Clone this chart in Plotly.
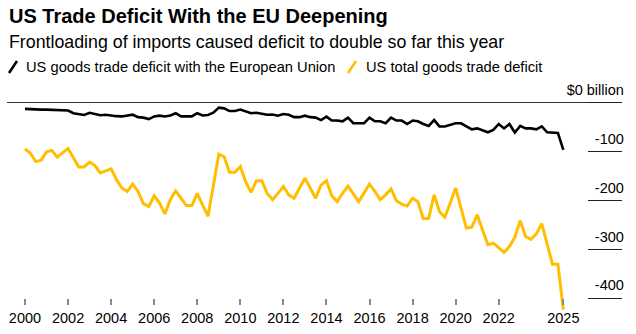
import pandas as pd
import plotly.graph_objects as go

# ---------------- data (quarterly, $ billion) ----------------
quarters = pd.date_range("2000-01-01", periods=101, freq="QS")

eu_deficit = [
    -12, -13, -13.5, -13.5, -13.5, -14, -14.5, -14.5,
    -15.5, -21, -23, -24.5, -20, -22, -25, -24,
    -26, -27, -27.5, -26, -24, -29, -30, -33,
    -27.5, -26, -27.5, -25.5, -21, -27.5, -27.5, -27.5,
    -21, -25.5, -24.5, -20, -9.5, -11, -16.5, -16.5,
    -13.5, -18, -21, -20, -22.5, -24, -23.5, -26,
    -22.5, -24, -29, -29, -26, -29, -30, -35,
    -28, -36, -36, -37.5, -30, -41.5, -41.5, -41.5,
    -30, -37.5, -37.5, -41.5, -30, -36, -36, -43,
    -36, -37.5, -43, -47, -35, -48, -48, -45,
    -41.5, -41.5, -48, -54, -52, -56.5, -60, -55,
    -43, -52, -43, -60.5, -47, -52, -52, -54,
    -48, -60, -61.5, -61.5, -96,
]

total_deficit = [
    -94, -103, -120, -117, -100, -97, -111, -102,
    -93, -112, -131, -131, -121, -128, -143, -139,
    -135, -157, -174, -181, -166, -181, -206, -212,
    -190, -205, -227, -198, -180, -195, -210, -210,
    -185, -209, -232, -169, -105, -110, -142, -142,
    -130, -161, -183, -159, -159, -185, -198, -185,
    -171, -188, -195, -174, -154, -174, -195, -168,
    -159, -190, -202, -185, -170, -186, -202, -184,
    -166, -181, -198, -188, -176, -200, -207, -211,
    -195, -202, -237, -236, -188, -222, -234, -205,
    -174, -215, -256, -254, -229, -260, -290, -287,
    -297, -306, -294, -275, -241, -273, -279, -268,
    -247, -288, -330, -330, -423,
]

series_names = ["US goods trade deficit with the European Union",
                "US total goods trade deficit"]

x_tick_years = [2000, 2002, 2004, 2006, 2008, 2010, 2012, 2014,
                2016, 2018, 2020, 2022, 2025]
x_tick_labels = [str(y) for y in x_tick_years]

y_tick_values = [0, -100, -200, -300, -400]
y_tick_labels = ["$0 billion", "-100", "-200", "-300", "-400"]

title_text = "US Trade Deficit With the EU Deepening"
subtitle_text = "Frontloading of imports caused deficit to double so far this year"

# ---------------- styling / geometry ----------------
W, H = 636, 334
ML, MR, MT, MB = 7, 14, 83, 23
PW, PH = W - ML - MR, H - MT - MB
Y_RANGE = [-425.8, 40.9]
X_RANGE = ["1999-03-02", "2027-09-23"]
BLACK = "#000000"
YELLOW = "#FFBF00"
FONT = "Liberation Sans, Arial, sans-serif"


def px_x(px):
    return (px - ML) / PW


def px_y(py):
    return (H - MB - py) / PH


fig = go.Figure()
fig.add_trace(go.Scatter(x=quarters, y=total_deficit, mode="lines",
                         name=series_names[1],
                         line=dict(color=YELLOW, width=3)))
fig.add_trace(go.Scatter(x=quarters, y=eu_deficit, mode="lines",
                         name=series_names[0],
                         line=dict(color=BLACK, width=2.6)))

x_axis_pos = (y_tick_values[-1] - Y_RANGE[0]) / (Y_RANGE[1] - Y_RANGE[0])

fig.update_layout(
    width=W, height=H,
    margin=dict(l=ML, r=MR, t=MT, b=MB),
    paper_bgcolor="white", plot_bgcolor="white",
    showlegend=False,
    font=dict(family=FONT, size=14.5, color="#000"),
    xaxis=dict(
        type="date", range=X_RANGE,
        tickvals=[f"{y}-01-01" for y in x_tick_years],
        ticktext=x_tick_labels,
        ticks="outside", ticklen=6, tickwidth=1.5, tickcolor="#8a8a8a",
        showgrid=False, zeroline=False, showline=False,
        anchor="free", position=x_axis_pos,
        tickfont=dict(size=14.5, color="#000"),
    ),
    yaxis=dict(
        range=Y_RANGE, side="right",
        tickvals=y_tick_values, ticktext=y_tick_labels,
        ticks="inside", ticklen=34, tickwidth=1, tickcolor="#222",
        ticklabelposition="inside", ticklabeloverflow="allow",
        ticklabelstandoff=-36, ticklabelshift=-13,
        showgrid=False, showline=False,
        zeroline=True, zerolinecolor="#333", zerolinewidth=1,
        tickfont=dict(size=14.5, color="#000"),
    ),
)

annotations = [
    dict(text=title_text, x=px_x(7), y=px_y(16), xref="paper", yref="paper",
         xanchor="left", yanchor="middle", showarrow=False,
         font=dict(family=FONT, size=20, weight=700, color="#000")),
    dict(text=subtitle_text, x=px_x(7), y=px_y(42), xref="paper", yref="paper",
         xanchor="left", yanchor="middle", showarrow=False,
         font=dict(family=FONT, size=17.8, color="#000")),
    dict(text=series_names[0], x=px_x(24), y=px_y(67), xref="paper", yref="paper",
         xanchor="left", yanchor="middle", showarrow=False,
         font=dict(family=FONT, size=14.7, color="#000")),
    dict(text=series_names[1], x=px_x(364), y=px_y(67), xref="paper", yref="paper",
         xanchor="left", yanchor="middle", showarrow=False,
         font=dict(family=FONT, size=14.7, color="#000")),
]
fig.update_layout(annotations=annotations)

shapes = [
    dict(type="line", xref="paper", yref="paper",
         x0=px_x(9), x1=px_x(17), y0=px_y(73), y1=px_y(61),
         line=dict(color=BLACK, width=2.6)),
    dict(type="line", xref="paper", yref="paper",
         x0=px_x(348), x1=px_x(356), y0=px_y(73), y1=px_y(61),
         line=dict(color=YELLOW, width=2.6)),
]
fig.update_layout(shapes=shapes)

fig.write_html("out.html")
